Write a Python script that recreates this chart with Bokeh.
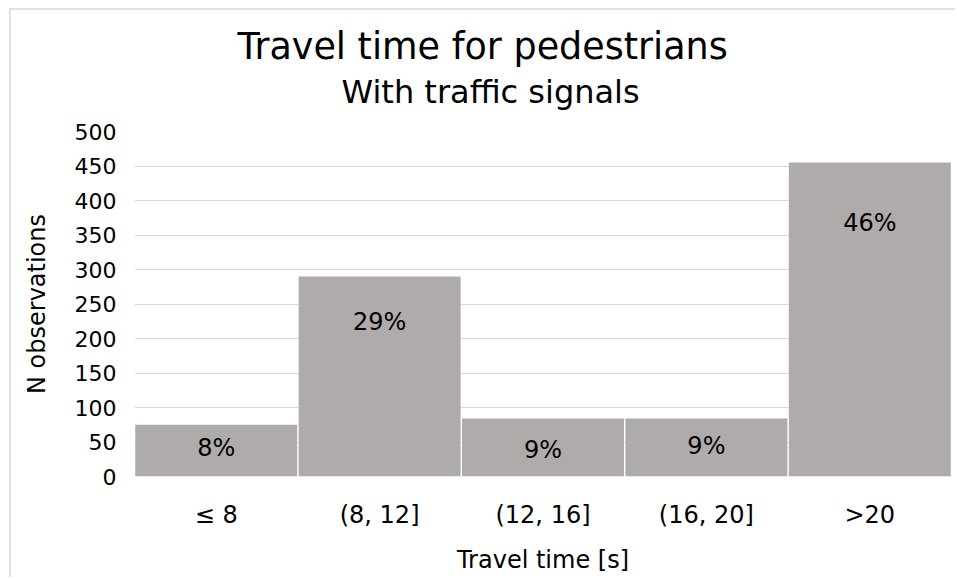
from bokeh.plotting import figure
from bokeh.models import ColumnDataSource, Title, FixedTicker, Range1d, FactorRange
from bokeh.core.properties import value
from bokeh.embed import file_html
from bokeh.resources import INLINE

categories = ["≤ 8", "(8, 12]", "(12, 16]", "(16, 20]", ">20"]
counts = [75, 290, 84, 84, 455]
pct_labels = ["8%", "29%", "9%", "9%", "46%"]
label_y = [42, 224, 39, 44, 368]
y_ticks = [0, 50, 100, 150, 200, 250, 300, 350, 400, 450, 500]

FONT = "DejaVu Sans"
BAR = "#aeabaa"
GRID = "#d9d9d9"

src = ColumnDataSource(dict(cat=categories, n=counts, lab=pct_labels, ly=label_y))

p = figure(
    width=946, height=569,
    x_range=FactorRange(*categories, range_padding=0),
    y_range=Range1d(0, 500),
    output_backend="svg", toolbar_location=None, title=None,
    min_border_left=123, min_border_right=6, min_border_top=121, min_border_bottom=103,
)
p.styles = {"margin-left": "9px", "margin-top": "8px",
            "border-left": "2px solid #e2e2e2", "border-top": "2px solid #e2e2e2"}

p.vbar(x="cat", top="n", width=0.991, source=src, fill_color=BAR, line_color=None)
p.text(x="cat", y="ly", text="lab", source=src, text_align="center",
       text_baseline="middle", text_font=value(FONT), text_font_size="24px",
       text_color="#000000")

p.add_layout(Title(text="With traffic signals", align="left", text_font=FONT,
                   text_font_size="32px", text_font_style="normal",
                   text_color="#000000", standoff=41, offset=207), "above")
p.add_layout(Title(text="Travel time for pedestrians", align="left", text_font=FONT,
                   text_font_size="36.5px", text_font_style="normal",
                   text_color="#000000", standoff=-35, offset=103), "above")

p.outline_line_color = None
p.xgrid.grid_line_color = None
p.ygrid.grid_line_color = GRID
p.ygrid.grid_line_width = 1
p.yaxis.ticker = FixedTicker(ticks=y_ticks)

for ax in (p.xaxis[0], p.yaxis[0]):
    ax.axis_line_color = None
    ax.major_tick_line_color = None
    ax.minor_tick_line_color = None
    ax.major_tick_out = 0
    ax.major_tick_in = 0
    ax.major_label_text_font = FONT
    ax.major_label_text_color = "#000000"
    ax.axis_label_text_font = FONT
    ax.axis_label_text_font_style = "normal"
    ax.axis_label_text_color = "#000000"

p.yaxis.major_label_text_font_size = "22px"
p.yaxis.major_label_standoff = 18
p.yaxis.axis_label = "N observations"
p.yaxis.axis_label_text_font_size = "24px"
p.yaxis.axis_label_standoff = 21

p.xaxis.major_label_text_font_size = "24px"
p.xaxis.major_label_standoff = 24
p.xaxis.axis_label = "Travel time [s]"
p.xaxis.axis_label_text_font_size = "24px"
p.xaxis.axis_label_standoff = 14

open("out.html", "w").write(file_html(p, INLINE))
